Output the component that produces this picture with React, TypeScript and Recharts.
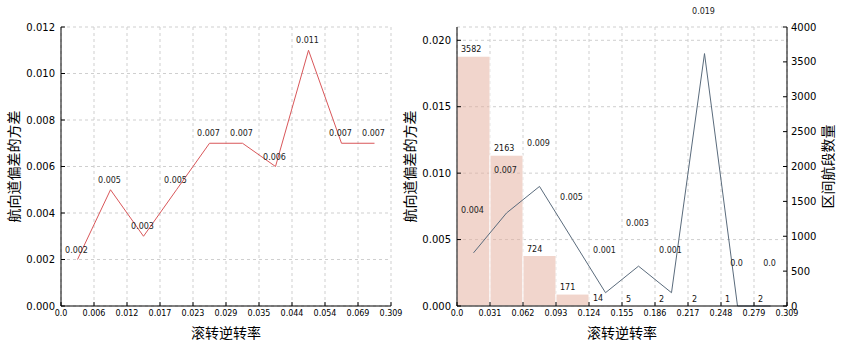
import { ComposedChart, Line, Bar, XAxis, YAxis, CartesianGrid, LabelList, Label } from "recharts";

// left panel: variance per roll-reversal-rate bin
const leftTickLabels = ["0.0", "0.006", "0.012", "0.017", "0.023", "0.029", "0.035", "0.044", "0.054", "0.069", "0.309"];
const leftVariance = [0.002, 0.005, 0.003, 0.005, 0.007, 0.007, 0.006, 0.011, 0.007, 0.007];
const leftYTicks = [0, 0.002, 0.004, 0.006, 0.008, 0.01, 0.012];

// right panel: equal-width bins, variance + segment counts
const rightTickLabels = ["0.0", "0.031", "0.062", "0.093", "0.124", "0.155", "0.186", "0.217", "0.248", "0.279", "0.309"];
const rightVariance = [0.004, 0.007, 0.009, 0.005, 0.001, 0.003, 0.001, 0.019, 0.0, 0.0];
const segmentCounts = [3582, 2163, 724, 171, 14, 5, 2, 2, 1, 2];
const rightYTicks = [0, 0.005, 0.01, 0.015, 0.02];
const countTicks = [0, 500, 1000, 1500, 2000, 2500, 3000, 3500, 4000];

const binEdges = leftTickLabels.map((_, i) => i);

const leftData = leftVariance.map((v, i) => ({ x: i + 0.5, v }));
const rightData = rightVariance.map((v, i) => ({ x: i + 0.5, v, n: segmentCounts[i] }));

const tickFont = { fontFamily: "DejaVu Sans", fill: "#000" };
const cjk = { fontFamily: "Noto Sans CJK SC", fontSize: 14, fill: "#000", textAnchor: "middle" as const };

const lineLabel = (dy: number, fmt: (v: number) => string) => (props: any) => {
    const { x, y, value } = props;
    return (
        <text x={x - 1} y={y - dy} textAnchor="middle" fontSize={8} fontFamily="DejaVu Sans" fill="#222">
            {fmt(value)}
        </text>
    );
};

const barLabel = (props: any) => {
    const { x, y, value } = props;
    return (
        <text x={x + 4} y={y - 4} fontSize={8} fontFamily="DejaVu Sans" fill="#111">
            {value}
        </text>
    );
};

export default function App() {
    return (
        <div style={{ position: "absolute", left: 0, top: 0, width: 844, height: 347, background: "#fff" }}>
            <div style={{ position: "absolute", left: 0, top: 0 }}>
                <ComposedChart width={420} height={347} data={leftData} margin={{ top: 27, right: 29, bottom: 0, left: 0 }}>
                    <CartesianGrid strokeDasharray="3 3" stroke="#cfcfcf" xAxisId="b" yAxisId="l" />
                    <XAxis
                        xAxisId="b"
                        dataKey="x"
                        type="number"
                        domain={[0, 10]}
                        ticks={binEdges}
                        interval={0}
                        height={41}
                        tickFormatter={(i) => leftTickLabels[i]}
                        tick={{ ...tickFont, fontSize: 8 }}
                        tickSize={-4}
                        tickMargin={8}
                        axisLine={{ stroke: "#000" }}
                        tickLine={{ stroke: "#000" }}
                    >
                        <Label value="滚转逆转率" position="insideBottom" offset={9} style={cjk} />
                    </XAxis>
                    <XAxis xAxisId="t" orientation="top" type="number" domain={[0, 10]} ticks={binEdges} height={0} tick={false} tickSize={-4} axisLine={{ stroke: "#000" }} tickLine={{ stroke: "#000" }} />
                    <YAxis
                        yAxisId="l"
                        domain={[0, 0.012]}
                        ticks={leftYTicks}
                        interval={0}
                        width={61}
                        tickFormatter={(v) => v.toFixed(3)}
                        tick={{ ...tickFont, fontSize: 10 }}
                        tickSize={-4}
                        tickMargin={10}
                        axisLine={{ stroke: "#000" }}
                        tickLine={{ stroke: "#000" }}
                    >
                        <Label value="航向道偏差的方差" angle={-90} position="insideLeft" offset={14} style={cjk} />
                    </YAxis>
                    <YAxis yAxisId="r" orientation="right" domain={[0, 0.012]} ticks={leftYTicks} width={0} tick={false} tickSize={-4} axisLine={{ stroke: "#000" }} tickLine={{ stroke: "#000" }} />
                    <Line xAxisId="b" yAxisId="l" type="linear" dataKey="v" stroke="#d9575a" strokeWidth={1} dot={false} isAnimationActive={false}>
                        <LabelList dataKey="v" content={lineLabel(7, (v) => v.toFixed(3))} />
                    </Line>
                </ComposedChart>
            </div>
            <div style={{ position: "absolute", left: 400, top: 0 }}>
                <ComposedChart width={444} height={347} data={rightData} barCategoryGap={0} margin={{ top: 27, right: 0, bottom: 0, left: 0 }}>
                    <CartesianGrid strokeDasharray="3 3" stroke="#cfcfcf" xAxisId="b" yAxisId="l" />
                    <XAxis
                        xAxisId="b"
                        dataKey="x"
                        type="number"
                        domain={[0, 10]}
                        ticks={binEdges}
                        interval={0}
                        height={41}
                        tickFormatter={(i) => rightTickLabels[i]}
                        tick={{ ...tickFont, fontSize: 8 }}
                        tickSize={-4}
                        tickMargin={8}
                        axisLine={{ stroke: "#000" }}
                        tickLine={{ stroke: "#000" }}
                    >
                        <Label value="滚转逆转率" position="insideBottom" offset={9} style={cjk} />
                    </XAxis>
                    <XAxis xAxisId="t" orientation="top" type="number" domain={[0, 10]} ticks={binEdges} height={0} tick={false} tickSize={-4} axisLine={{ stroke: "#000" }} tickLine={{ stroke: "#000" }} />
                    <YAxis
                        yAxisId="l"
                        domain={[0, 0.021]}
                        ticks={rightYTicks}
                        interval={0}
                        width={57}
                        tickFormatter={(v) => v.toFixed(3)}
                        tick={{ ...tickFont, fontSize: 10 }}
                        tickSize={-4}
                        tickMargin={10}
                        axisLine={{ stroke: "#000" }}
                        tickLine={{ stroke: "#000" }}
                    >
                        <Label value="航向道偏差的方差" angle={-90} position="insideLeft" offset={10} style={cjk} />
                    </YAxis>
                    <YAxis
                        yAxisId="c"
                        orientation="right"
                        domain={[0, 4000]}
                        ticks={countTicks}
                        interval={0}
                        width={57}
                        tick={{ ...tickFont, fontSize: 10 }}
                        tickSize={-4}
                        tickMargin={8}
                        axisLine={{ stroke: "#000" }}
                        tickLine={{ stroke: "#000" }}
                    >
                        <Label value="区间航段数量" angle={-90} position="insideRight" offset={16} style={cjk} />
                    </YAxis>
                    <Line xAxisId="b" yAxisId="l" type="linear" dataKey="v" stroke="none" dot={false} isAnimationActive={false}>
                        <LabelList dataKey="v" content={lineLabel(40, (v) => (v === 0 ? "0.0" : v.toFixed(3)))} />
                    </Line>
                    <Bar xAxisId="b" yAxisId="c" dataKey="n" fill="#e3ab99" fillOpacity={0.5} stroke="#fff" strokeWidth={1} isAnimationActive={false}>
                        <LabelList dataKey="n" content={barLabel} />
                    </Bar>
                    <Line xAxisId="b" yAxisId="l" type="linear" dataKey="v" stroke="#5a6b7c" strokeWidth={1} dot={false} isAnimationActive={false} />
                </ComposedChart>
            </div>
        </div>
    );
}
